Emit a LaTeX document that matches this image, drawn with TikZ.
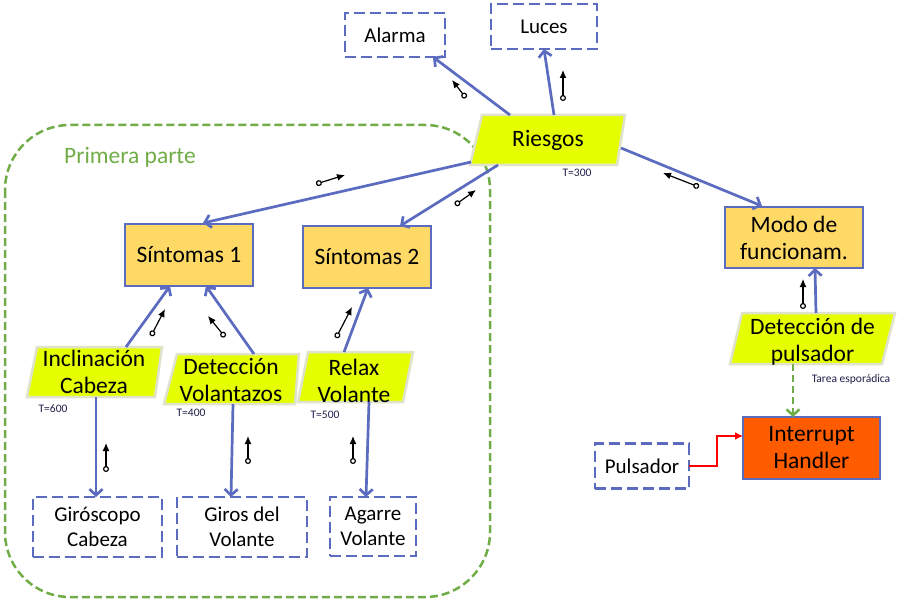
\documentclass[tikz,border=0pt]{standalone}
\usepackage{fontspec}
\setmainfont{Carlito}
\usetikzlibrary{arrows.meta}
\definecolor{lnblue}{HTML}{5A6BC0}
\definecolor{boxorange}{HTML}{FFD966}
\definecolor{limey}{HTML}{E6FF00}
\definecolor{paraborder}{HTML}{DFE3CC}
\definecolor{intred}{HTML}{FF5C00}
\definecolor{grn}{HTML}{70AD47}
\definecolor{tlab}{HTML}{1F1F4A}
\begin{document}
\begin{tikzpicture}[x=1pt,y=-1pt,
  every node/.style={inner sep=0pt, outer sep=0pt, align=center},
  big/.style={font=\fontsize{23.5}{27}\selectfont},
  small/.style={font=\fontsize{21}{25}\selectfont},
  tiny/.style={font=\fontsize{11.5}{13}\selectfont, text=tlab},
  procbox/.style={big, draw=lnblue, line width=2.7pt, fill=boxorange},
  extbox/.style={small, draw=lnblue, line width=2.7pt, dash pattern=on 11pt off 5pt},
  para/.style={fill=limey, draw=paraborder, line width=2.5pt},
  ptext/.style={big},
  conn/.style={draw=lnblue, line width=2.7pt, -{Straight Barb[length=6pt,width=13pt]}},
  flow/.style={draw=black, line width=1.2pt, {Circle[open,length=6pt,width=6pt]}-{Latex[length=8pt,width=7pt]}}
]
\useasboundingbox (0,0) rectangle (909,604);
\fill[white] (0,0) rectangle (909,604);

% group
\draw[grn, line width=2.5pt, dash pattern=on 8pt off 4pt, rounded corners=65pt] (5,125) rectangle (490,597);
\node[big, text=grn] (prim) at (130,157) {Primera parte};

% parallelograms
\path[para] (482,115) -- (625,115) -- (617,165) -- (470,165) -- cycle;
\node[ptext, minimum width=140pt, minimum height=50pt] (ries) at (548,140) {Riesgos};
\path[para] (37,347) -- (162,347) -- (155,397) -- (27,397) -- cycle;
\node[ptext, minimum width=120pt, minimum height=50pt] (incl) at (94,372) {Inclinación\\Cabeza};
\path[para] (177,354) -- (299,354) -- (295,404) -- (164,404) -- cycle;
\node[ptext, minimum width=125pt, minimum height=50pt] (vol) at (231,380) {Detección\\Volantazos};
\path[para] (308,352) -- (413,352) -- (403,402) -- (298,402) -- cycle;
\node[ptext, minimum width=105pt, minimum height=50pt] (relax) at (354,380.5) {Relax\\Volante};
\path[para] (742,313) -- (895,313) -- (882,364) -- (730,364) -- cycle;
\node[ptext, minimum width=150pt, minimum height=51pt] (puls) at (812.5,341.5) {Detección de\\pulsador};

% process boxes
\node[procbox, minimum width=128pt, minimum height=62pt] (s1) at (189,255) {Síntomas 1};
\node[procbox, minimum width=128pt, minimum height=62pt] (s2) at (367,257) {Síntomas 2};
\node[procbox, minimum width=138pt, minimum height=61pt] (modo) at (794,237.5) {Modo de\\funcionam.};
\node[procbox, fill=intred, minimum width=137pt, minimum height=62pt] (inth) at (811.5,448) {Interrupt\\Handler};

% external boxes
\node[extbox, minimum width=100pt, minimum height=44pt] (alarma) at (395,35) {Alarma};
\node[extbox, minimum width=106pt, minimum height=45pt] (luces) at (544,26.5) {Luces};
\node[extbox, minimum width=94pt, minimum height=45pt] (pulsador) at (642,466) {Pulsador};
\node[extbox, minimum width=129pt, minimum height=60pt] (giro) at (97.5,527) {Giróscopo\\Cabeza};
\node[extbox, minimum width=130pt, minimum height=60pt] (girv) at (242,527) {Giros del\\Volante};
\node[extbox, minimum width=86pt, minimum height=59pt] (agar) at (373,526.5) {Agarre\\Volante};

% small labels
\node[tiny] (t300) at (577,173) {T=300};
\node[tiny] (t600) at (53,409) {T=600};
\node[tiny] (t400) at (191,413) {T=400};
\node[tiny] (t500) at (325,415) {T=500};
\node[tiny] (tarea) at (851,379) {Tarea esporádica};

% connectors
\draw[conn] ([shift={(-38,0)}]ries.north) -- ([shift={(38,0)}]alarma.south);
\draw[conn] ([shift={(6,0)}]ries.north) -- (luces.south);
\draw[conn] ([shift={(-7,-3)}]ries.south west) -- ([shift={(14,-1)}]s1.north);
\draw[conn] ([shift={(-50,0)}]ries.south) -- ([shift={(33,0)}]s2.north);
\draw[conn] ([shift={(3,8)}]ries.east) -- ([shift={(-32,-1)}]modo.north);
\draw[conn] ([shift={(32,0)}]incl.north) -- ([shift={(-19,0)}]s1.south);
\draw[conn] ([shift={(23,-1)}]vol.north) -- ([shift={(17,0)}]s1.south);
\draw[conn] ([shift={(-10,-3.5)}]relax.north) -- ([shift={(1,0)}]s2.south);
\draw[conn] ([shift={(3.5,-3)}]puls.north) -- ([shift={(21,0)}]modo.south);
\draw[conn] ([shift={(2,0)}]incl.south) -- ([shift={(-1.5,0)}]giro.north);
\draw[conn] ([shift={(2,-1)}]vol.south) -- ([shift={(-11,0)}]girv.north);
\draw[conn] ([shift={(15,-3.5)}]relax.south) -- ([shift={(-7,0)}]agar.north);
\draw[draw=grn, line width=2.5pt, dash pattern=on 7pt off 4pt, -{Straight Barb[length=6pt,width=13pt]}]
  ([shift={(-19.5,-3)}]puls.south) -- ([shift={(-18.5,0)}]inth.north);
\draw[draw=red, line width=2.5pt, -{Latex[length=8pt,width=8pt]}]
  (pulsador.east) -- ++(28,0) |- ([shift={(0,-12)}]inth.west);

% data flow markers
\draw[flow] (466,98) -- (452,80);
\draw[flow] (563,101) -- (563,70);
\draw[flow] (316,184) -- (345,175);
\draw[flow] (455,205) -- (476,190);
\draw[flow] (699,187) -- (663,173);
\draw[flow] (151,336) -- (165,309);
\draw[flow] (225,337) -- (208,316);
\draw[flow] (336,338) -- (352,307);
\draw[flow] (106,472) -- (106,443);
\draw[flow] (248,464) -- (248,436);
\draw[flow] (353,464) -- (353,436);
\draw[flow] (803,309) -- (803,279);
\end{tikzpicture}
\end{document}
